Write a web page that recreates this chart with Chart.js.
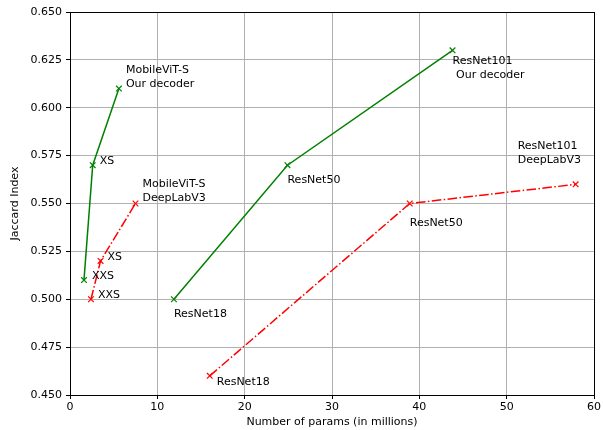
<!DOCTYPE html>
<html>
<head>
<meta charset="utf-8">
<script src="https://cdn.jsdelivr.net/npm/chart.js@4"></script>
<style>
  html, body { margin: 0; padding: 0; background: #fff; }
  #wrap { width: 603px; height: 430px; }
</style>
</head>
<body>
<div id="wrap"><canvas id="jaccardChart"></canvas></div>
<script>
// params (millions) vs Jaccard index
const mvitOursX = [1.6, 2.6, 5.6];
const mvitOursY = [0.510, 0.570, 0.610];
const mvitOursLabels = [['XXS'], ['XS'], ['MobileViT-S', 'Our decoder']];

const resOursX = [11.9, 24.9, 43.8];
const resOursY = [0.500, 0.570, 0.630];
const resOursLabels = [['ResNet18'], ['ResNet50'], ['ResNet101', ' Our decoder']];

const mvitDlX = [2.4, 3.5, 7.5];
const mvitDlY = [0.500, 0.520, 0.550];
const mvitDlLabels = [['XXS'], ['XS'], ['MobileViT-S', 'DeepLabV3']];

const resDlX = [16.0, 38.9, 57.9];
const resDlY = [0.460, 0.550, 0.560];
const resDlLabels = [['ResNet18'], ['ResNet50'], ['ResNet101', 'DeepLabV3']];

const xTicks = [0, 10, 20, 30, 40, 50, 60];

const FONT = 'DejaVu Sans';
const GREEN = '#008000';
const RED = '#ff0000';

function toPoints(xs, ys) {
  return xs.map((x, i) => ({x: x, y: ys[i]}));
}

// label offsets in pixels from each marker (dx, dy of first line centre)
const labelOffsets = [
  [[8, -4], [7, -4], [7, -18]],
  [[0, 15], [0, 15], [0, 11]],
  [[7, -4], [7, -4], [7, -19]],
  [[7, 6], [0, 20], [-58, -38]]
];

function makeSet(label, xs, ys, color, dash, names) {
  return {
    label: label,
    data: toPoints(xs, ys),
    names: names,
    showLine: true,
    borderColor: color,
    backgroundColor: color,
    borderWidth: 1.5,
    borderDash: dash,
    pointStyle: 'crossRot',
    pointRadius: 4,
    pointBorderWidth: 1.2,
    pointBorderColor: color,
    tension: 0
  };
}

const annotate = {
  id: 'annotate',
  afterDatasetsDraw(chart) {
    const ctx = chart.ctx;
    ctx.save();
    ctx.font = '11px "' + FONT + '"';
    ctx.fillStyle = '#000';
    ctx.textAlign = 'left';
    ctx.textBaseline = 'middle';
    chart.data.datasets.forEach((ds, di) => {
      const meta = chart.getDatasetMeta(di);
      meta.data.forEach((pt, i) => {
        const off = labelOffsets[di][i];
        ds.names[i].forEach((line, k) => {
          ctx.fillText(line, pt.x + off[0], pt.y + off[1] + k * 13.5);
        });
      });
    });
    ctx.restore();
  }
};

const frame = {
  id: 'frame',
  afterDraw(chart) {
    const a = chart.chartArea;
    const ctx = chart.ctx;
    ctx.save();
    ctx.strokeStyle = '#000';
    ctx.lineWidth = 1;
    ctx.strokeRect(Math.round(a.left) + 0.5, Math.round(a.top) + 0.5,
      Math.round(a.right - a.left), Math.round(a.bottom - a.top));
    ctx.restore();
  }
};

const config = {
  type: 'scatter',
  data: {
    datasets: [
      makeSet('MobileViT ours', mvitOursX, mvitOursY, GREEN, [], mvitOursLabels),
      makeSet('ResNet ours', resOursX, resOursY, GREEN, [], resOursLabels),
      makeSet('MobileViT DeepLabV3', mvitDlX, mvitDlY, RED, [9.6, 2.4, 1.5, 2.4], mvitDlLabels),
      makeSet('ResNet DeepLabV3', resDlX, resDlY, RED, [9.6, 2.4, 1.5, 2.4], resDlLabels)
    ]
  },
  options: {
    responsive: true,
    maintainAspectRatio: false,
    animation: false,
    layout: { padding: { top: 12, right: 8, left: 0, bottom: 0 } },
    plugins: {
      legend: { display: false },
      tooltip: { enabled: false }
    },
    scales: {
      x: {
        type: 'linear',
        min: 0,
        max: 60,
        afterFit(scale) { scale.height = 35; },
        afterBuildTicks(scale) { scale.ticks = xTicks.map(v => ({value: v})); },
        grid: { color: '#b0b0b0', tickColor: '#000', tickLength: 4, lineWidth: 1 },
        border: { color: '#000' },
        ticks: { color: '#000', font: { family: FONT, size: 11 }, padding: 2, maxRotation: 0 },
        title: {
          display: true,
          text: 'Number of params (in millions)',
          color: '#000',
          font: { family: FONT, size: 11 },
          padding: { top: 0, bottom: 1 }
        }
      },
      y: {
        type: 'linear',
        min: 0.45,
        max: 0.65,
        afterFit(scale) { scale.width = 70; },
        grid: { color: '#b0b0b0', tickColor: '#000', tickLength: 4, lineWidth: 1 },
        border: { color: '#000' },
        ticks: {
          stepSize: 0.025,
          color: '#000',
          font: { family: FONT, size: 11 },
          padding: 4,
          callback: v => v.toFixed(3)
        },
        title: {
          display: true,
          text: 'Jaccard Index',
          color: '#000',
          font: { family: FONT, size: 11 },
          padding: { top: 9, bottom: 0 }
        }
      }
    }
  },
  plugins: [annotate, frame]
};

const jaccardChart = new Chart(document.getElementById('jaccardChart'), config);
</script>
</body>
</html>
